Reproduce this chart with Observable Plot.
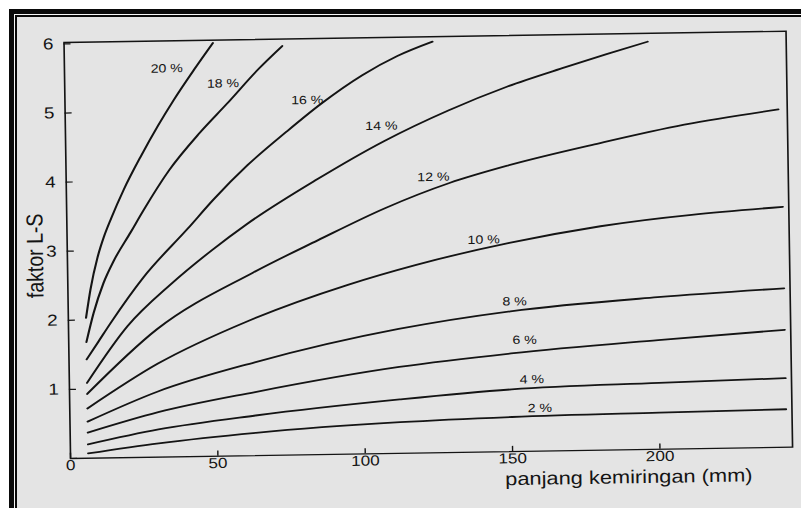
<!DOCTYPE html>
<html><head><meta charset="utf-8">
<script src="https://cdn.jsdelivr.net/npm/d3@7"></script>
<script src="https://cdn.jsdelivr.net/npm/@observablehq/plot@0.6"></script>
<style>
html,body{margin:0;padding:0;background:#fff;}
#page{position:relative;width:801px;height:508px;overflow:hidden;background:#fff;}
#paper{position:absolute;left:9px;top:9px;width:792px;height:499px;background:#e4e4e4;}
.b{position:absolute;background:#0a0a0a;}
.g{position:absolute;background:#f6f6f6;}
#chart{position:absolute;left:0;top:0;width:801px;height:508px;transform-origin:70px 458px;transform:rotate(-0.9deg);}
#chart svg{position:absolute;left:0;top:0;transform-origin:0 0;transform:scaleX(1.1797);overflow:visible;background:transparent !important;}
</style></head><body>
<div id="page">
<div id="paper"></div>
<div class="g" style="left:14px;top:14px;width:1px;height:494px"></div>
<div class="g" style="left:14px;top:14px;width:787px;height:1px"></div>
<div class="b" style="left:9px;top:9px;width:5px;height:499px"></div>
<div class="b" style="left:9px;top:9px;width:792px;height:5px"></div>
<div class="b" style="left:15px;top:15px;width:2px;height:493px"></div>
<div class="b" style="left:15px;top:15px;width:786px;height:2px"></div>
<div id="chart"></div>
</div>
<script>
// slope-length (x) vs LS factor (y)
const slopeNames = ["2 %", "4 %", "6 %", "8 %", "10 %", "12 %", "14 %", "16 %", "18 %", "20 %"];
const curve2  = [[6,0.07],[30,0.2],[63,0.33],[112,0.45],[150,0.5],[200,0.53],[243,0.55]];
const curve4  = [[6,0.2],[30,0.4],[63,0.58],[112,0.78],[150,0.9],[200,0.96],[243,1.0]];
const curve6  = [[6,0.37],[30,0.65],[63,0.92],[112,1.25],[150,1.42],[200,1.58],[243,1.7]];
const curve8  = [[6,0.53],[30,0.95],[63,1.35],[112,1.8],[150,2.03],[200,2.2],[243,2.3]];
const curve10 = [[6,0.72],[30,1.35],[61,1.95],[95,2.45],[118,2.72],[150,3.02],[181,3.24],[243,3.48]];
const curve12 = [[6,0.93],[30,1.85],[63,2.65],[85,3.1],[108,3.55],[130,3.9],[150,4.14],[181,4.44],[210,4.69],[242,4.89]];
const curve14 = [[6,1.09],[20,1.9],[35,2.5],[49,2.98],[61,3.35],[85,3.98],[108,4.52],[130,4.95],[150,5.28],[170,5.55],[184,5.73],[198,5.9]];
const curve16 = [[6,1.43],[10,1.68],[14.3,1.95],[25.8,2.61],[41,3.3],[50,3.72],[61.5,4.2],[75,4.68],[87,5.08],[101,5.48],[113,5.75],[125,5.95]];
const curve18 = [[6,1.68],[8.6,2.1],[12.1,2.53],[15.7,2.85],[21.6,3.26],[26,3.57],[35,4.15],[45.5,4.68],[55,5.1],[66,5.6],[74,5.92]];
const curve20 = [[6,2.03],[7.7,2.45],[10.2,2.9],[12.5,3.2],[15,3.46],[19.5,3.88],[25.5,4.36],[31.5,4.8],[37,5.17],[44,5.6],[50.5,5.98]];
const curves = [curve2, curve4, curve6, curve8, curve10, curve12, curve14, curve16, curve18, curve20];
// label anchor points (data coordinates)
const labelX = [159.5, 156.9, 154.7, 151.5, 141.3, 124.6, 107.2, 82.2, 53.7, 34.7];
const labelY = [0.62, 1.04, 1.61, 2.17, 3.07, 3.99, 4.74, 5.13, 5.39, 5.62];
const xTicks = [0, 50, 100, 150, 200];
const yTicks = [0, 1, 2, 3, 4, 5, 6];
const xTitle = "panjang kemiringan (mm)";
const yTitle = "faktor L-S";

const rows = curves.flatMap((c, i) => c.map(([x, y]) => ({slope: slopeNames[i], x, y})));
const labels = slopeNames.map((t, i) => ({text: t, x: labelX[i], y: labelY[i]}));
const ink = "#141414";

const chart = Plot.plot({
  width: 679, height: 508,
  marginLeft: 59.3, marginRight: 7.6, marginTop: 42, marginBottom: 50,
  x: {domain: [0, 245]},
  y: {domain: [0, 6.02]},
  style: {background: "transparent", fontFamily: "'Liberation Sans', Arial, sans-serif", color: ink},
  marks: [
    Plot.frame({stroke: ink, strokeWidth: 1.4}),
    Plot.ruleX(xTicks, {y1: 0, y2: 0.075, stroke: ink, strokeWidth: 1.2}),
    Plot.ruleY(yTicks, {x1: 0, x2: 2.4, stroke: ink, strokeWidth: 1.2}),
    Plot.axisX({ticks: xTicks, tickSize: 0, tickPadding: 1.5, fontSize: 14.5, tickFormat: d => String(d), label: null}),
    Plot.axisY({ticks: yTicks.filter(d => d > 0), tickSize: 0, tickPadding: 9, fontSize: 16, tickFormat: d => String(d), label: null}),
    Plot.line(rows, {x: "x", y: "y", z: "slope", curve: "monotone-x", stroke: ink, strokeWidth: 1.8}),
    Plot.text(labels, {x: "x", y: "y", text: "text", fontSize: 12, fill: ink}),
    Plot.text([xTitle], {x: 189.3, y: -0.4, text: d => d, fontSize: 18.5, fill: ink}),
    Plot.text([yTitle], {x: -10.8, y: 2.94, text: d => d, rotate: -90, fontSize: 19.5, fill: ink})
  ]
});
document.getElementById("chart").appendChild(chart);
</script>
</body></html>
